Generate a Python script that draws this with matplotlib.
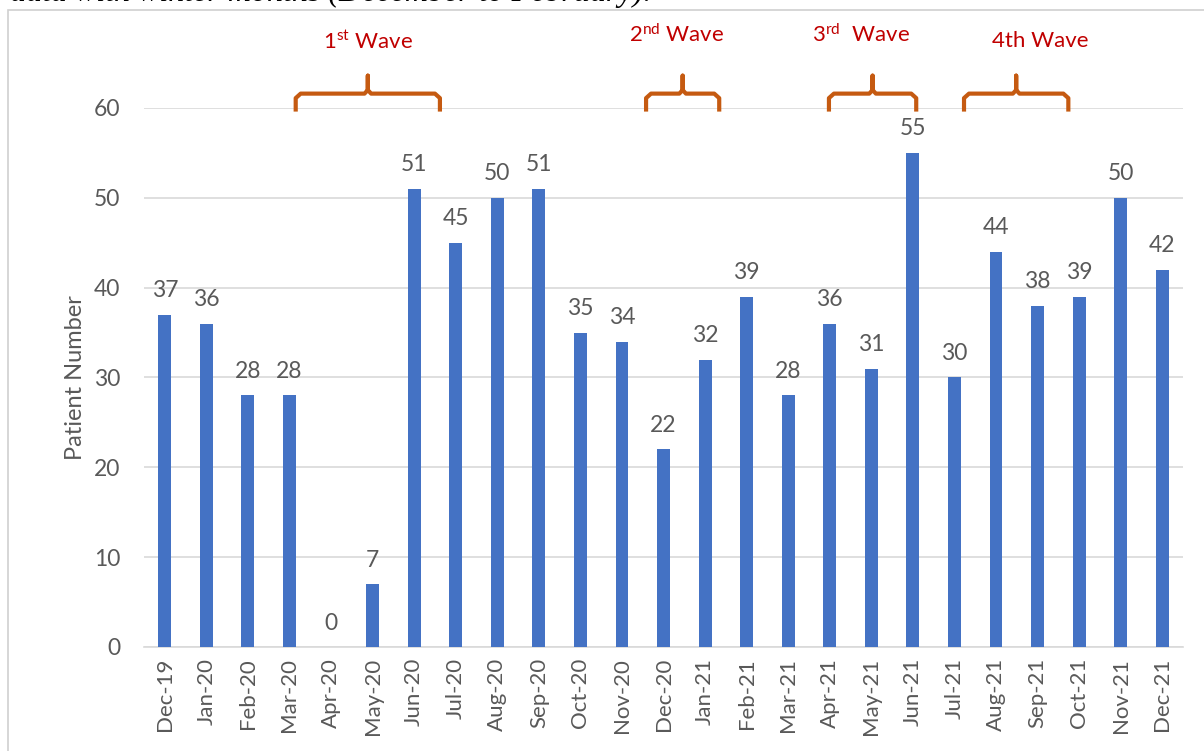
import numpy as np
import matplotlib.pyplot as plt
from matplotlib.patches import Rectangle

plt.rcParams['font.family'] = ['Lato', 'DejaVu Sans']
plt.rcParams['mathtext.fontset'] = 'custom'
plt.rcParams['mathtext.rm'] = 'Lato'
plt.rcParams['mathtext.it'] = 'Lato:italic'

months = ['Dec-19', 'Jan-20', 'Feb-20', 'Mar-20', 'Apr-20', 'May-20', 'Jun-20',
          'Jul-20', 'Aug-20', 'Sep-20', 'Oct-20', 'Nov-20', 'Dec-20', 'Jan-21',
          'Feb-21', 'Mar-21', 'Apr-21', 'May-21', 'Jun-21', 'Jul-21', 'Aug-21',
          'Sep-21', 'Oct-21', 'Nov-21', 'Dec-21']
patients = [37, 36, 28, 28, 0, 7, 51, 45, 50, 51, 35, 34, 22, 32, 39, 28, 36,
            31, 55, 30, 44, 38, 39, 50, 42]

wave_labels = [r'1$^{\mathrm{st}}$ Wave', r'2$^{\mathrm{nd}}$ Wave',
               r'3$^{\mathrm{rd}}$  Wave', '4th Wave']
# bracket spans in bar index units
wave_spans = [(3.15, 6.62), (11.58, 13.34), (15.98, 18.08), (19.23, 21.74)]

grey = '#595959'
fig = plt.figure(figsize=(12.04, 7.51), dpi=100)
ax = fig.add_axes([0.1196, 0.1385, 0.8630, 0.7177])

x = np.arange(len(months))
ax.bar(x, patients, width=0.31, color='#4472C4', zorder=3)
for xi, v in zip(x, patients):
    ax.text(xi, v + 1.5, str(v), ha='center', va='bottom', fontsize=16.5, color=grey)

ax.set_xlim(-0.5, len(months) - 0.5)
ax.set_ylim(0, 60)
ax.set_yticks(range(0, 61, 10))
ax.set_xticks(x)
ax.set_xticklabels(months, rotation=90, fontsize=16, color=grey)
ax.tick_params(axis='y', labelsize=16.5, labelcolor=grey, length=0, pad=17)
ax.tick_params(axis='x', length=0, pad=8)
ax.grid(axis='y', color='#D9D9D9', lw=1.2, zorder=0)
for s in ['top', 'right', 'left']:
    ax.spines[s].set_visible(False)
ax.spines['bottom'].set_color('#D9D9D9')
ax.spines['bottom'].set_linewidth(1.2)
ax.set_ylabel('Patient Number', fontsize=17, color=grey, labelpad=6)

# wave brackets
orange = '#C55A11'
label_y = [67.4, 68.2, 68.2, 67.5]
label_dx = [0.0, -0.15, -0.28, 0.58]
for (a, b), lab, ly, dx in zip(wave_spans, wave_labels, label_y, label_dx):
    m = (a + b) / 2
    r = 0.12
    xs = [a, a, a + r, m - 0.08, m, m, m, m + 0.08, b - r, b, b]
    ys = [59.6, 61.1, 61.6, 61.6, 62.0, 63.6, 62.0, 61.6, 61.6, 61.1, 59.6]
    ax.plot(xs, ys, color=orange, lw=3, clip_on=False, solid_joinstyle='round',
            solid_capstyle='butt', zorder=4)
    ax.text(m + dx, ly, lab, ha='center', va='center', fontsize=16, color='#C00000')

# outer border and clipped caption
fig.patches.append(Rectangle((8 / 1204, -0.1), 1.2, 1.1 - 10 / 751,
                             transform=fig.transFigure, fill=False,
                             edgecolor='#D0D0D0', lw=1.2))
fig.text(10 / 1204, 1 - 0.5 / 751, 'data with winter months (December to February).',
         family=['Liberation Serif'], style='italic', fontsize=23, color='black',
         ha='left', va='baseline')

fig.savefig('out.png', dpi=100)
